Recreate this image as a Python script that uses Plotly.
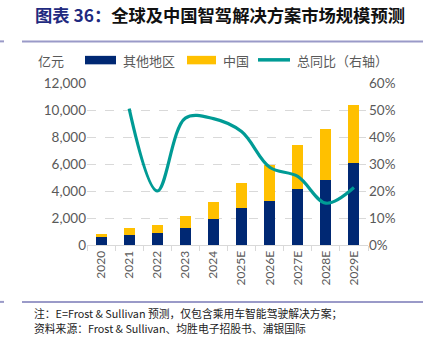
import plotly.graph_objects as go

years = ["2020", "2021", "2022", "2023", "2024", "2025E", "2026E", "2027E", "2028E", "2029E"]
other = [560, 760, 910, 1280, 1920, 2710, 3270, 4160, 4830, 6110]
china = [270, 470, 590, 890, 1280, 1850, 2620, 3230, 3740, 4290]
growth_years = years[1:]
growth = [50.5, 20.0, 47.0, 46.8, 42.0, 28.8, 25.4, 15.5, 21.3]

W, H = 423, 341
L, R, T, B = 87, 368, 82.7, 245.0

def px(x):
    return (x - L) / (R - L)

def py(y):
    return (B - y) / (B - T)

NAVY = "#002873"
GOLD = "#FFC000"
TEAL = "#009B95"
GREY = "#595959"
NUMFONT = "Lato, Noto Sans CJK SC"
CJK = "Noto Sans CJK SC"

fig = go.Figure()
fig.add_trace(go.Bar(x=years, y=other, name="其他地区", marker=dict(color=NAVY, line=dict(width=0)), showlegend=False))
fig.add_trace(go.Bar(x=years, y=china, name="中国", marker=dict(color=GOLD, line=dict(width=0)), showlegend=False))
fig.add_trace(go.Scatter(x=growth_years, y=growth, name="总同比（右轴）", yaxis="y2", mode="lines",
                         line=dict(color=TEAL, width=3.2, shape="spline", smoothing=1.0), showlegend=False))

fig.update_layout(
    width=W, height=H,
    margin=dict(l=L, r=W - R, t=T, b=H - B),
    barmode="stack", bargap=0.61,
    plot_bgcolor="white", paper_bgcolor="white",
    xaxis=dict(type="category", tickangle=-90, tickfont=dict(family=NUMFONT, size=12, color=GREY),
               showline=True, linecolor="#D9D9D9", linewidth=1, ticks="outside", tickson="boundaries",
               ticklen=5, tickcolor="#D9D9D9", showgrid=False),
    yaxis=dict(range=[0, 12000], dtick=2000, tickformat=",d", tickfont=dict(family=NUMFONT, size=13.5, color=GREY),
               showgrid=True, gridcolor="#D9D9D9", griddash="dash", gridwidth=1, zeroline=False, ticks="", ticklen=0),
    yaxis2=dict(range=[0, 60], dtick=10, ticksuffix="%", overlaying="y", side="right",
                tickfont=dict(family=NUMFONT, size=13.5, color=GREY), showgrid=False, zeroline=False),
)

shapes = []
ann = []
# title
ann.append(dict(x=px(33), y=py(14), xref="paper", yref="paper", xanchor="left", yanchor="middle",
                text="<b><span style='color:#1F2A80'>图表 36：</span>全球及中国智驾解决方案市场规模预测</b>",
                showarrow=False, font=dict(family=CJK, size=17.3, color="#111111")))
# separator lines
for yy in (41, 302):
    shapes.append(dict(type="line", xref="paper", yref="paper", x0=px(22), x1=px(423), y0=py(yy), y1=py(yy),
                       line=dict(color="#9A9AC8", width=2)))
    shapes.append(dict(type="line", xref="paper", yref="paper", x0=px(0), x1=px(4), y0=py(yy), y1=py(yy),
                       line=dict(color="#9A9AC8", width=2)))
# unit label
ann.append(dict(x=px(36), y=py(60), xref="paper", yref="paper", xanchor="left", yanchor="middle",
                text="亿元", showarrow=False, font=dict(family=CJK, size=13, color=GREY)))
# manual legend
shapes.append(dict(type="rect", xref="paper", yref="paper", x0=px(85), x1=px(116), y0=py(55.5), y1=py(64),
                   fillcolor=NAVY, line=dict(width=0)))
ann.append(dict(x=px(121), y=py(60), xref="paper", yref="paper", xanchor="left", yanchor="middle",
                text="其他地区", showarrow=False, font=dict(family=CJK, size=13, color=GREY)))
shapes.append(dict(type="rect", xref="paper", yref="paper", x0=px(187), x1=px(216), y0=py(55.5), y1=py(64),
                   fillcolor=GOLD, line=dict(width=0)))
ann.append(dict(x=px(221), y=py(60), xref="paper", yref="paper", xanchor="left", yanchor="middle",
                text="中国", showarrow=False, font=dict(family=CJK, size=13, color=GREY)))
shapes.append(dict(type="line", xref="paper", yref="paper", x0=px(258), x1=px(290), y0=py(59.5), y1=py(59.5),
                   line=dict(color=TEAL, width=3.5)))
ann.append(dict(x=px(295), y=py(60), xref="paper", yref="paper", xanchor="left", yanchor="middle",
                text="总同比（右轴）", showarrow=False, font=dict(family=CJK, size=13, color=GREY)))
# footnotes
ann.append(dict(x=px(32), y=py(313), xref="paper", yref="paper", xanchor="left", yanchor="middle",
                text="注：E=Frost &amp; Sullivan 预测，仅包含乘用车智能驾驶解决方案；", showarrow=False,
                font=dict(family=CJK, size=10.8, color="#222222")))
ann.append(dict(x=px(32), y=py(328.5), xref="paper", yref="paper", xanchor="left", yanchor="middle",
                text="资料来源：Frost &amp; Sullivan、均胜电子招股书、浦银国际", showarrow=False,
                font=dict(family=CJK, size=10.8, color="#222222")))

fig.update_layout(shapes=shapes, annotations=ann)
fig.write_html("out.html")
